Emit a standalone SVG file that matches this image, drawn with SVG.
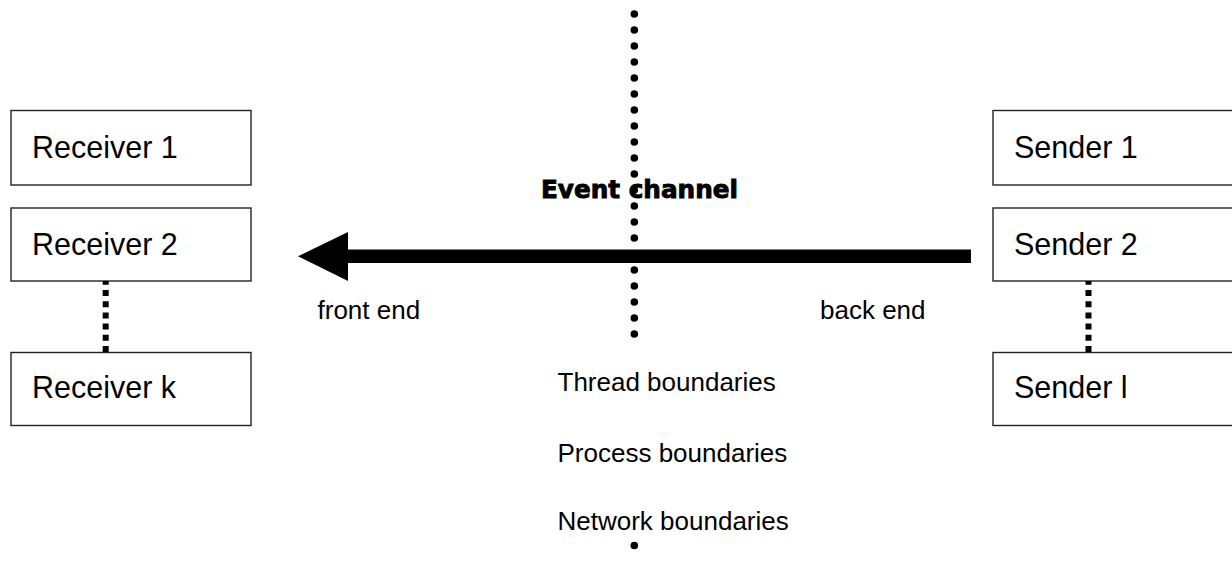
<svg xmlns="http://www.w3.org/2000/svg" width="1232" height="579" viewBox="0 0 1232 579">
  <style>
    .box { fill: #ffffff; stroke: #222222; stroke-width: 1.4; }
    .lbl { font-family: "Liberation Sans", Arial, sans-serif; font-size: 30.5px; fill: #000000; }
    .note { font-family: "Liberation Sans", Arial, sans-serif; font-size: 26px; fill: #000000; }
    .title { font-family: "DejaVu Sans", "Liberation Sans", sans-serif; font-weight: bold; font-size: 25px; fill: #000000; stroke: #000000; stroke-width: 0.9; }
    .link { stroke: #000000; stroke-width: 6; stroke-dasharray: 6 5.2; stroke-dashoffset: 2.2; fill: none; }
    .bound { stroke: #000000; stroke-width: 7.5; stroke-linecap: round; stroke-dasharray: 0 16; fill: none; }
  </style>
  <defs>
    <clipPath id="upperClip">
      <rect x="600" y="0" width="70" height="350.5"/>
    </clipPath>
  </defs>
  <rect x="0" y="0" width="1232" height="579" fill="#ffffff"/>

  <!-- boundary line between front end and back end -->
  <g id="boundary">
    <line class="bound" x1="634.3" y1="14" x2="634.3" y2="350" clip-path="url(#upperClip)"/>
    <circle cx="634.3" cy="545.5" r="3.8" fill="#000000"/>
  </g>

  <!-- receivers -->
  <g id="receiver-1">
    <rect class="box" x="11" y="110.5" width="240" height="74.5"/>
    <text class="lbl" x="32" y="158">Receiver 1</text>
  </g>
  <g id="receiver-2">
    <rect class="box" x="11" y="208" width="240" height="73"/>
    <text class="lbl" x="32" y="255">Receiver 2</text>
  </g>
  <g id="receiver-k">
    <rect class="box" x="11" y="352.5" width="240" height="73"/>
    <text class="lbl" x="32" y="398">Receiver k</text>
  </g>

  <!-- senders -->
  <g id="sender-1">
    <rect class="box" x="993" y="110.5" width="240" height="74.5"/>
    <text class="lbl" x="1014" y="158">Sender 1</text>
  </g>
  <g id="sender-2">
    <rect class="box" x="993" y="208" width="240" height="73"/>
    <text class="lbl" x="1014" y="255">Sender 2</text>
  </g>
  <g id="sender-l">
    <rect class="box" x="993" y="352.5" width="240" height="73"/>
    <text class="lbl" x="1014" y="398">Sender l</text>
  </g>

  <!-- connectors -->
  <g id="connectors">
    <line class="link" x1="105.7" y1="281" x2="105.7" y2="352.5"/>
    <line class="link" x1="1088.5" y1="281" x2="1088.5" y2="352.5"/>
    <polygon id="event-arrow" points="971,249.5 348,249.5 348,232 298,256.3 348,281 348,263 971,263" fill="#000000"/>
  </g>

  <!-- labels -->
  <g id="labels">
    <text class="title" x="541" y="198" textLength="197" lengthAdjust="spacingAndGlyphs">Event channel</text>
    <text class="note" x="317.5" y="319">front end</text>
    <text class="note" x="820" y="319">back end</text>
    <text class="note" x="557.5" y="391">Thread boundaries</text>
    <text class="note" x="557.5" y="461.5">Process boundaries</text>
    <text class="note" x="557.5" y="530">Network boundaries</text>
  </g>
</svg>
